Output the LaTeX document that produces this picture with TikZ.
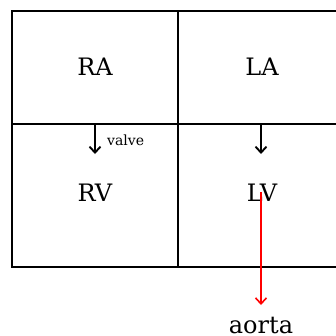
\documentclass[tikz,border=0pt]{standalone}
\usepackage{fontspec}
\setmainfont{DejaVu Serif}
\usetikzlibrary{arrows.meta}
\begin{document}
\begin{tikzpicture}[x=1pt,y=-1pt,
  grid/.style={line width=2pt, line cap=rect},
  lbl/.style={font=\fontsize{24}{28}\selectfont, inner sep=0pt},
  small/.style={font=\fontsize{14}{16}\selectfont, inner sep=0pt, anchor=west},
  flow/.style={line width=1.9pt, -{Straight Barb[length=6pt,width=11pt]}},
  redflow/.style={line width=1.6pt, red, -{Straight Barb[length=6pt,width=11pt]}}]
\useasboundingbox (0,0) rectangle (336,335);
% grid
\draw[grid] (11.5,10.5) rectangle (346,267);
\draw[grid] (178,10.5) -- (178,267);
\draw[grid] (11.5,124) -- (346,124);
% labels
\node[lbl] (RA) at (95,67) {RA};
\node[lbl] (LA) at (262,67) {LA};
\node[lbl] (RV) at (95,193) {RV};
\node[lbl] (LV) at (262,193) {LV};
\node[lbl] (aorta) at (261,325) {aorta};
% valve arrows
\coordinate (v1s) at (95,125);
\coordinate (v1e) at (95,154);
\coordinate (v2s) at (261,125);
\coordinate (v2e) at (261,154);
\draw[flow] (v1s) -- (v1e);
\draw[flow] (v2s) -- (v2e);
\node[small] (valve) at (107,140) {valve};
% aorta arrow
\coordinate (ao) at (261,305);
\draw[redflow] (LV.center) ++(-1,-1) coordinate (lvs) -- (ao);
\end{tikzpicture}
\end{document}
